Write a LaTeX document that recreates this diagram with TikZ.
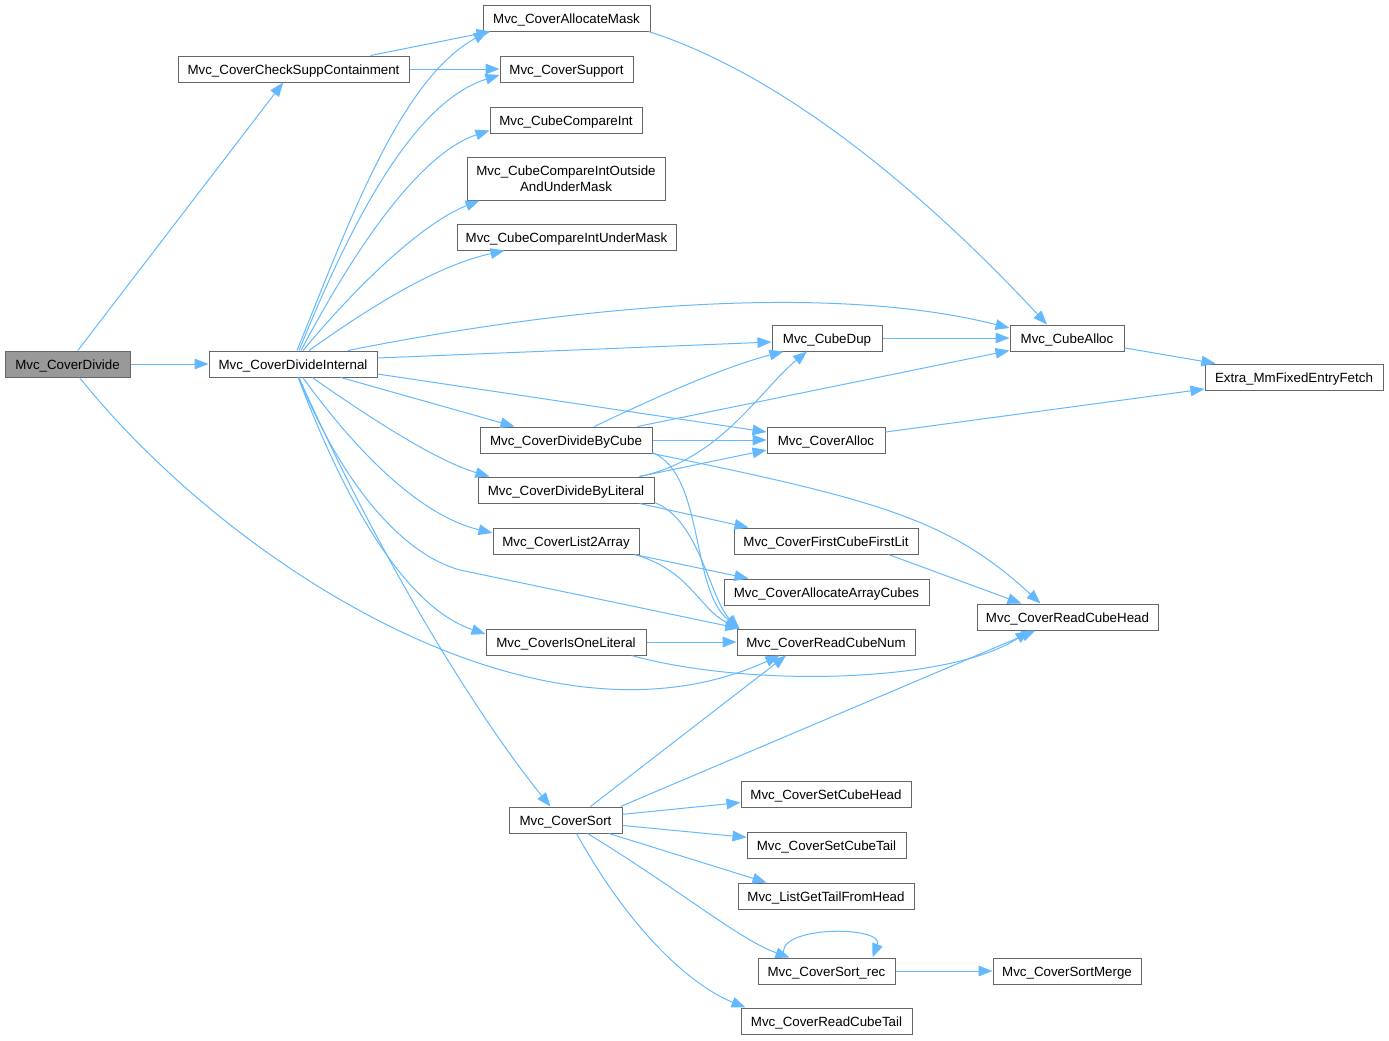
\documentclass[tikz,border=0pt]{standalone}
\usepackage{fontspec}
\setmainfont{Liberation Sans}
\usetikzlibrary{arrows.meta,calc}
\definecolor{edgeblue}{HTML}{63B8FF}
\definecolor{boxgray}{HTML}{666666}
\definecolor{rootgray}{HTML}{999999}
\begin{document}
\begin{tikzpicture}[x=0.75pt,y=-0.75pt,
  fnbase/.style={draw=boxgray, fill=white, line width=0.75pt, minimum height=19.5pt,
    inner sep=0pt, font=\fontsize{10}{12}\selectfont, text=black},
  fn/.style={fnbase, text height=8.5pt, text depth=1pt},
  rootfn/.style={fn, fill=rootgray},
  bw/.style={minimum width=#1*0.75pt},
  call/.style={draw=edgeblue, line width=0.75pt, -{Triangle[length=10.5pt,width=8pt]}}]
\useasboundingbox (0,0) rectangle (1389,1040);

% nodes
\node[rootfn,bw=125] (cd)  at (67.5,364)  {Mvc\_CoverDivide};
\node[fn,bw=231] (csc) at (293.5,69) {Mvc\_CoverCheckSuppContainment};
\node[fn,bw=168] (di)  at (293,364) {Mvc\_CoverDivideInternal};
\node[fn,bw=167] (am)  at (566.5,18) {Mvc\_CoverAllocateMask};
\node[fn,bw=133] (sup) at (566.5,69) {Mvc\_CoverSupport};
\node[fn,bw=152] (cci) at (566,120) {Mvc\_CubeCompareInt};
\node[fnbase,bw=198,minimum height=32.25pt,align=center] (cco) at (566,178.5) {Mvc\_CubeCompareIntOutside\\AndUnderMask};
\node[fn,bw=219] (ccu) at (566.5,237) {Mvc\_CubeCompareIntUnderMask};
\node[fn,bw=172] (dbc) at (566,440) {Mvc\_CoverDivideByCube};
\node[fn,bw=176] (dbl) at (566,490) {Mvc\_CoverDivideByLiteral};
\node[fn,bw=146] (l2a) at (566,541) {Mvc\_CoverList2Array};
\node[fn,bw=160] (iol) at (566,642) {Mvc\_CoverIsOneLiteral};
\node[fn,bw=113] (sort) at (565.5,820) {Mvc\_CoverSort};
\node[fn,bw=110] (dup) at (827,338) {Mvc\_CubeDup};
\node[fn,bw=118] (calloc) at (826,440) {Mvc\_CoverAlloc};
\node[fn,bw=184] (fcf) at (826,541) {Mvc\_CoverFirstCubeFirstLit};
\node[fn,bw=205] (aac) at (826.5,592) {Mvc\_CoverAllocateArrayCubes};
\node[fn,bw=178] (rcn) at (826,642) {Mvc\_CoverReadCubeNum};
\node[fn,bw=170] (sch) at (826,794) {Mvc\_CoverSetCubeHead};
\node[fn,bw=159] (sct) at (826.5,845) {Mvc\_CoverSetCubeTail};
\node[fn,bw=176] (lgt) at (826,896) {Mvc\_ListGetTailFromHead};
\node[fn,bw=137] (rec) at (826.5,971) {Mvc\_CoverSort\_rec};
\node[fn,bw=171] (rct) at (826.5,1021) {Mvc\_CoverReadCubeTail};
\node[fn,bw=114] (cubealloc) at (1067,338) {Mvc\_CubeAlloc};
\node[fn,bw=181] (rch) at (1067.5,617) {Mvc\_CoverReadCubeHead};
\node[fn,bw=148] (merge) at (1067,971) {Mvc\_CoverSortMerge};
\node[fn,bw=178] (extra) at (1294,377) {Extra\_MmFixedEntryFetch};

% edges from Mvc_CoverDivide
\draw[call] (cd) -- (csc);
\draw[call] (cd) -- (di);
\draw[call] ($(cd.south)+(12,0)$) .. controls (230,565) and (540,765) .. ($(rcn.south west)+(43,0)$);

% Mvc_CoverCheckSuppContainment
\draw[call] ($(csc.north)+(77,0)$) -- ($(am.south west)+(8,0)$);
\draw[call] (csc) -- (sup);

% Mvc_CoverDivideInternal
\draw[call] ($(di.north)+(4,0)$) .. controls (350,220) and (400,80) .. ($(am.south west)+(5,0)$);
\draw[call] ($(di.north)+(6,0)$) .. controls (360,200) and (420,100) .. ($(sup.west)+(0,6)$);
\draw[call] ($(di.north)+(8,0)$) .. controls (370,220) and (430,150) .. ($(cci.south west)+(0,-3)$);
\draw[call] ($(di.north)+(10,0)$) .. controls (370,270) and (430,220) .. ($(cco.south west)+(13,0)$);
\draw[call] ($(di.north)+(16,0)$) .. controls (380,300) and (440,265) .. ($(ccu.south west)+(48,0)$);
\draw[call] ($(di.north)+(55,0)$) .. controls (550,310) and (820,280) .. ($(cubealloc.west)+(0,-10)$);
\draw[call] ($(di.east)+(0,-6)$) -- ($(dup.west)+(0,4)$);
\draw[call] ($(di.east)+(0,10)$) -- ($(calloc.west)+(0,-8)$);
\draw[call] (di) -- ($(dbc.north west)+(35,0)$);
\draw[call] (di) .. controls (380,425) and (440,462) .. ($(dbl.north west)+(12,0)$);
\draw[call] (di) .. controls (370,470) and (430,518) .. ($(l2a.west)+(0,-8)$);
\draw[call] (di) .. controls (345,490) and (405,555) .. (460,570) -- ($(rcn.north west)+(3,0)$);
\draw[call] (di) .. controls (360,540) and (420,612) .. ($(iol.west)+(0,-8)$);
\draw[call] (di) .. controls (380,560) and (480,720) .. ($(sort.north)+(-15,0)$);

% Mvc_CoverAllocateMask
\draw[call] ($(am.south east)+(-2,0)$) .. controls (800,80) and (950,220) .. ($(cubealloc.north)+(-20,0)$);

% Mvc_CubeDup, Mvc_CubeAlloc, Mvc_CoverAlloc
\draw[call] (dup) -- (cubealloc);
\draw[call] (cubealloc) -- (extra);
\draw[call] (calloc) -- (extra);

% Mvc_CoverDivideByCube
\draw[call] (dbc) .. controls (650,400) and (720,368) .. ($(dup.south west)+(12,0)$);
\draw[call] ($(dbc.north east)+(-15,0)$) -- ($(cubealloc.south west)+(0,-1)$);
\draw[call] (dbc) -- (calloc);
\draw[call] ($(dbc.south east)+(0,-1)$) .. controls (705,475) and (690,590) .. ($(rcn.north west)+(3,0)$);
\draw[call] (dbc.south east) .. controls (880,500) and (950,520) .. ($(rch.north)+(-27,0)$);

% Mvc_CoverDivideByLiteral
\draw[call] ($(dbl.north east)+(-15,0)$) .. controls (720,460) and (760,390) .. ($(dup.south)+(-20,0)$);
\draw[call] ($(dbl.north east)+(-15,0)$) -- ($(calloc.west)+(0,10)$);
\draw[call] ($(dbl.south east)+(-15,0)$) -- ($(fcf.north west)+(15,0)$);
\draw[call] ($(dbl.south east)+(0,-1)$) .. controls (700,520) and (710,600) .. ($(rcn.north west)+(3,0)$);

% Mvc_CoverList2Array
\draw[call] ($(l2a.south east)+(-5,0)$) -- ($(aac.north west)+(25,0)$);
\draw[call] ($(l2a.south east)+(-5,0)$) .. controls (690,570) and (700,610) .. ($(rcn.north west)+(3,0)$);

% Mvc_CoverFirstCubeFirstLit
\draw[call] ($(fcf.south east)+(-30,0)$) -- ($(rch.north west)+(45,0)$);

% Mvc_CoverIsOneLiteral
\draw[call] (iol) -- (rcn);
\draw[call] ($(iol.south east)+(-15,0)$) .. controls (750,688) and (950,683) .. ($(rch.south west)+(53,0)$);

% Mvc_CoverSort
\draw[call] ($(sort.north east)+(-32,0)$) -- ($(rcn.south)+(-40,0)$);
\draw[call] ($(sort.north east)+(-2,0)$) -- ($(rch.south)+(-32,0)$);
\draw[call] (sort) -- (sch);
\draw[call] (sort) -- (sct);
\draw[call] (sort) -- ($(lgt.north west)+(29,0)$);
\draw[call] ($(sort.south)+(22,0)$) .. controls (680,890) and (740,940) .. ($(rec.north west)+(32,0)$);
\draw[call] ($(sort.south)+(11,0)$) .. controls (630,930) and (690,985) .. ($(rct.north west)+(5,0)$);

% Mvc_CoverSort_rec
\draw[call] ($(rec.north west)+(27,0)$) .. controls (770,925) and (885,925) .. ($(rec.north east)+(-23,0)$);
\draw[call] (rec) -- (merge);
\end{tikzpicture}
\end{document}
